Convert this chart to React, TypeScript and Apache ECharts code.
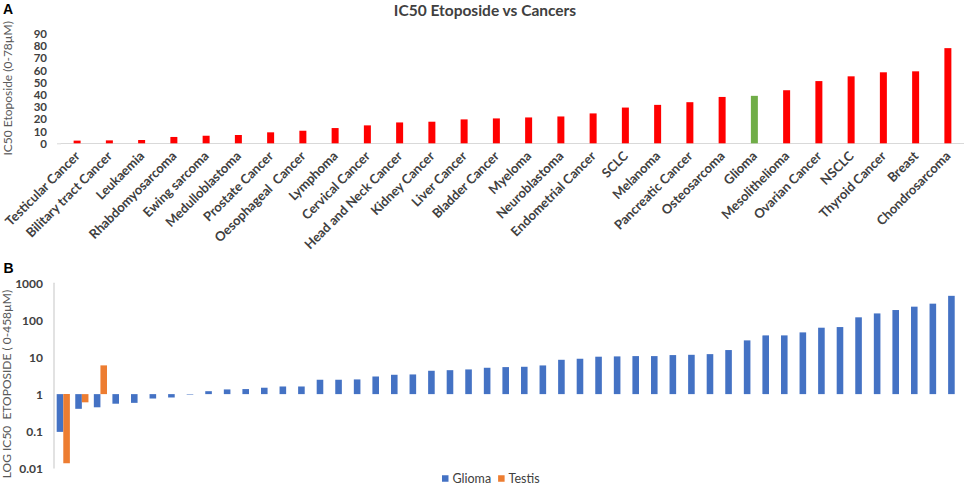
import React, { useEffect, useRef } from "react";
import * as echarts from "echarts";

// Panel A: IC50 Etoposide per cancer type (µM)
const cancerNames = [
  "Testicular Cancer",
  "Bilitary tract Cancer",
  "Leukaemia",
  "Rhabdomyosarcoma",
  "Ewing sarcoma",
  "Medulloblastoma",
  "Prostate Cancer",
  "Oesophageal  Cancer",
  "Lymphoma",
  "Cervical Cancer",
  "Head and Neck Cancer",
  "Kidney Cancer",
  "Liver Cancer",
  "Bladder Cancer",
  "Myeloma",
  "Neuroblastoma",
  "Endometrial Cancer",
  "SCLC",
  "Melanoma",
  "Pancreatic Cancer",
  "Osteosarcoma",
  "Glioma",
  "Mesolithelioma",
  "Ovarian Cancer",
  "NSCLC",
  "Thyroid Cancer",
  "Breast",
  "Chondrosarcoma",
];
const cancerIC50 = [
  2.2, 2.4, 2.7, 5.2, 6.2, 6.8, 9.0, 10.3, 12.5, 14.7, 17.1, 17.7, 19.6, 20.4,
  21.2, 22.0, 24.5, 29.3, 31.5, 33.7, 38.0, 38.9, 43.5, 51.0, 54.9, 58.2, 59.0,
  78.0,
];
const highlightCancer = "Glioma";
const topTickMin = 0;
const topTickMax = 90;
const topTickStep = 10;

// Panel B: log IC50 Etoposide, Glioma vs Testis cell lines (µM)
const gliomaIC50 = [
  0.095, 0.4, 0.44, 0.55, 0.58, 0.76, 0.81, 0.97, 1.2, 1.34, 1.37, 1.49, 1.61,
  1.61, 2.45, 2.45, 2.5, 3.0, 3.34, 3.41, 4.29, 4.45, 4.66, 5.17, 5.39, 5.5,
  5.98, 8.5, 9.07, 10.3, 10.5, 10.7, 10.7, 11.4, 11.6, 12.1, 15.6, 28.5, 38.9,
  38.9, 46.9, 62.8, 65.4, 120, 153, 189, 233, 281, 458,
];
const testisIC50 = [0.0135, 0.6, 6.0];
const logTickLabels = ["0.01", "0.1", "1", "10", "100", "1000"];

const FONT = "Lato, 'Open Sans', sans-serif";
const TEXT = "#404040";

export default function App() {
  const ref = useRef<HTMLDivElement>(null);

  useEffect(() => {
    if (!ref.current) return;
    const chart = echarts.init(ref.current, undefined, { renderer: "svg" });

    const lineCats = gliomaIC50.map((_, i) => String(i + 1));
    const testisData = lineCats.map((_, i) =>
      i < testisIC50.length ? testisIC50[i] : null
    );

    const option: any = {
      animation: false,
      backgroundColor: "#ffffff",
      textStyle: { fontFamily: FONT },
      grid: [
        { left: 61, top: 33.5, width: 905, height: 109.8, containLabel: false },
        { left: 54, top: 283.3, width: 914, height: 184.7, containLabel: false },
      ],
      legend: {
        data: ["Glioma", "Testis"],
        left: 442,
        top: 472,
        padding: 0,
        icon: "rect",
        itemWidth: 6.5,
        itemHeight: 6.5,
        itemGap: 7,
        textStyle: { fontFamily: FONT, fontSize: 12.5, color: TEXT, padding: [0, 0, 0, -1] },
      },
      xAxis: [
        {
          type: "category",
          gridIndex: 0,
          data: cancerNames,
          axisLine: { show: true, lineStyle: { color: "#D9D9D9", width: 1 } },
          axisTick: { show: false },
          axisLabel: {
            interval: 0,
            rotate: 45,
            margin: 10,
            fontFamily: FONT,
            fontSize: 13,
            fontWeight: "bold",
            color: TEXT,
            hideOverlap: false,
          },
        },
        {
          type: "category",
          gridIndex: 1,
          data: lineCats,
          axisLine: { show: false },
          axisTick: { show: false },
          axisLabel: { show: false },
        },
      ],
      yAxis: [
        {
          type: "value",
          gridIndex: 0,
          min: topTickMin,
          max: topTickMax,
          interval: topTickStep,
          axisLine: { show: false },
          axisTick: { show: false },
          splitLine: { show: false },
          axisLabel: {
            margin: 14,
            fontFamily: FONT,
            fontSize: 11.5,
            lineHeight: 11,
            fontWeight: "bold",
            color: TEXT,
            showMinLabel: true,
            showMaxLabel: true,
            hideOverlap: false,
          },
        },
        {
          type: "log",
          gridIndex: 1,
          logBase: 10,
          min: 0.01,
          max: 1000,
          axisLine: { show: true, lineStyle: { color: "#D9D9D9", width: 1.5 } },
          axisTick: { show: false },
          splitLine: { show: false },
          axisLabel: {
            margin: 11,
            fontFamily: FONT,
            fontSize: 12,
            fontWeight: "bold",
            color: TEXT,
            showMinLabel: true,
            showMaxLabel: true,
            formatter: (v: number) => {
              const idx = Math.round(Math.log10(v)) + 2;
              return logTickLabels[idx] ?? String(v);
            },
          },
        },
      ],
      series: [
        {
          name: "IC50",
          type: "bar",
          xAxisIndex: 0,
          yAxisIndex: 0,
          barWidth: 7,
          data: cancerIC50.map((v, i) => ({
            value: v,
            itemStyle: {
              color: cancerNames[i] === highlightCancer ? "#70AD47" : "#FF0000",
            },
          })),
        },
        {
          name: "Glioma",
          type: "bar",
          xAxisIndex: 1,
          yAxisIndex: 1,
          barWidth: 6.6,
          barGap: "0%",
          itemStyle: { color: "#4472C4" },
          data: gliomaIC50,
        },
        {
          name: "Testis",
          type: "bar",
          xAxisIndex: 1,
          yAxisIndex: 1,
          barWidth: 6.6,
          barGap: "0%",
          itemStyle: { color: "#ED7D31" },
          data: testisData,
        },
      ],
      graphic: [
        {
          type: "line",
          shape: { x1: 57, y1: 143.8, x2: 61, y2: 143.8 },
          style: { stroke: "#D9D9D9", lineWidth: 1 },
        },
        {
          type: "text",
          left: 3,
          top: 2,
          style: { text: "A", fontFamily: "'Liberation Sans', Arial, sans-serif", fontSize: 14, fontWeight: "bold", fill: "#000" },
        },
        {
          type: "text",
          left: 3.5,
          top: 261,
          style: { text: "B", fontFamily: "'Liberation Sans', Arial, sans-serif", fontSize: 14, fontWeight: "bold", fill: "#000" },
        },
        {
          type: "text",
          x: 485,
          y: 10,
          style: {
            text: "IC50 Etoposide vs Cancers",
            fontFamily: FONT,
            fontSize: 15.5,
            fontWeight: "bold",
            fill: TEXT,
            textAlign: "center",
            textVerticalAlign: "middle",
          },
        },
        {
          type: "text",
          x: 7,
          y: 88.3,
          rotation: Math.PI / 2,
          style: {
            text: "IC50 Etoposide (0-78µM)",
            fontFamily: FONT,
            fontSize: 12,
            fill: "#595959",
            textAlign: "center",
            textVerticalAlign: "middle",
          },
        },
        {
          type: "text",
          x: 6,
          y: 384,
          rotation: Math.PI / 2,
          style: {
            text: "LOG IC50  ETOPOSIDE ( 0-458µM)",
            fontFamily: FONT,
            fontSize: 12,
            fill: "#595959",
            textAlign: "center",
            textVerticalAlign: "middle",
          },
        },
      ],
    };

    chart.setOption(option);
    return () => chart.dispose();
  }, []);

  return (
    <div
      ref={ref}
      style={{ position: "absolute", left: 0, top: 0, width: 964, height: 486 }}
    />
  );
}
